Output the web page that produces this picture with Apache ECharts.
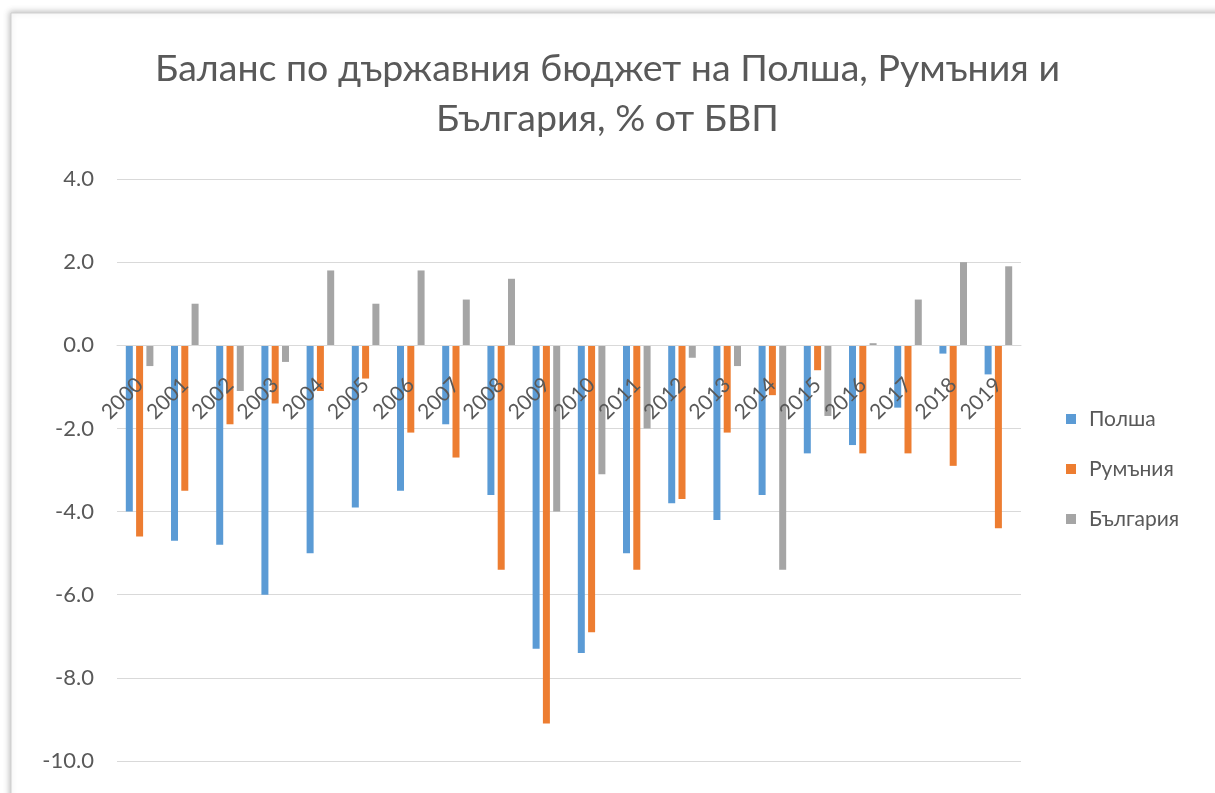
<!DOCTYPE html>
<html>
<head>
<meta charset="utf-8">
<script src="https://cdn.jsdelivr.net/npm/echarts@6/dist/echarts.min.js"></script>
<style>
html,body{margin:0;padding:0;background:#fff;}
#chart{width:1215px;height:793px;}
</style>
</head>
<body>
<div id="chart"></div>
<script>
var titleText = 'Баланс по държавния бюджет на Полша, Румъния и\nБългария, % от БВП';
var years = ['2000','2001','2002','2003','2004','2005','2006','2007','2008','2009','2010','2011','2012','2013','2014','2015','2016','2017','2018','2019'];
var seriesNames = ['Полша','Румъния','България'];
var poland   = [-4.0,-4.7,-4.8,-6.0,-5.0,-3.9,-3.5,-1.9,-3.6,-7.3,-7.4,-5.0,-3.8,-4.2,-3.6,-2.6,-2.4,-1.5,-0.2,-0.7];
var romania  = [-4.6,-3.5,-1.9,-1.4,-1.1,-0.8,-2.1,-2.7,-5.4,-9.1,-6.9,-5.4,-3.7,-2.1,-1.2,-0.6,-2.6,-2.6,-2.9,-4.4];
var bulgaria = [-0.5,1.0,-1.1,-0.4,1.8,1.0,1.8,1.1,1.6,-4.0,-3.1,-2.0,-0.3,-0.5,-5.4,-1.7,0.05,1.1,2.0,1.9];
var yMin = -10, yMax = 4, yStep = 2;
var colors = ['#5B9BD5','#ED7D31','#A5A5A5'];

var FONT = 'Lato, "Open Sans", sans-serif';
var GRID_TOP = 179, GRID_BOTTOM = 32, H = 793;
var gridH = H - GRID_TOP - GRID_BOTTOM;
// place the category axis at the value 0 of the value axis
var zeroOffset = -gridH * (0 - yMin) / (yMax - yMin);

var chart = echarts.init(document.getElementById('chart'));
var values = [poland, romania, bulgaria];
chart.setOption({
  animation: false,
  backgroundColor: '#ffffff',
  graphic: [{
    type: 'rect', z: -10, silent: true,
    shape: {x: 11, y: 13, width: 1400, height: 1000},
    style: {fill: '#ffffff', stroke: '#cfcfcf', lineWidth: 1,
            shadowBlur: 6, shadowColor: 'rgba(0,0,0,0.25)', shadowOffsetX: -1, shadowOffsetY: -1}
  }],
  title: {
    text: titleText, left: 'center', top: 39, padding: [5, 0, 5, 30],
    textStyle: {fontFamily: FONT, fontSize: 37.5, fontWeight: 'normal', color: '#595959', lineHeight: 50}
  },
  legend: {
    orient: 'vertical', left: 1061, top: 403, itemWidth: 10, itemHeight: 10, itemGap: 28,
    icon: 'rect',
    textStyle: {fontFamily: FONT, fontSize: 21, color: '#595959', lineHeight: 22, padding: [0,0,0,8]},
    data: seriesNames
  },
  grid: {left: 117, right: 194, top: GRID_TOP, bottom: GRID_BOTTOM, containLabel: false},
  xAxis: {
    type: 'category', data: years, position: 'bottom', offset: zeroOffset, z: 10,
    axisLine: {show: true, onZero: false, lineStyle: {color: '#d9d9d9'}},
    axisTick: {show: false},
    axisLabel: {rotate: 45, margin: 36, interval: 0, fontFamily: FONT, fontSize: 21, color: '#595959'}
  },
  yAxis: {
    type: 'value', min: yMin, max: yMax, interval: yStep,
    axisLine: {show: false}, axisTick: {show: false},
    splitLine: {lineStyle: {color: '#d9d9d9', width: 1}},
    axisLabel: {margin: 23, fontFamily: FONT, fontSize: 22, color: '#595959',
      formatter: function(v){ return v.toFixed(1); }}
  },
  series: seriesNames.map(function(n, i){
    return {name: n, type: 'bar', data: values[i], barWidth: 7, barGap: '47%', z: 2,
            itemStyle: {color: colors[i]}};
  })
});
</script>
</body>
</html>
